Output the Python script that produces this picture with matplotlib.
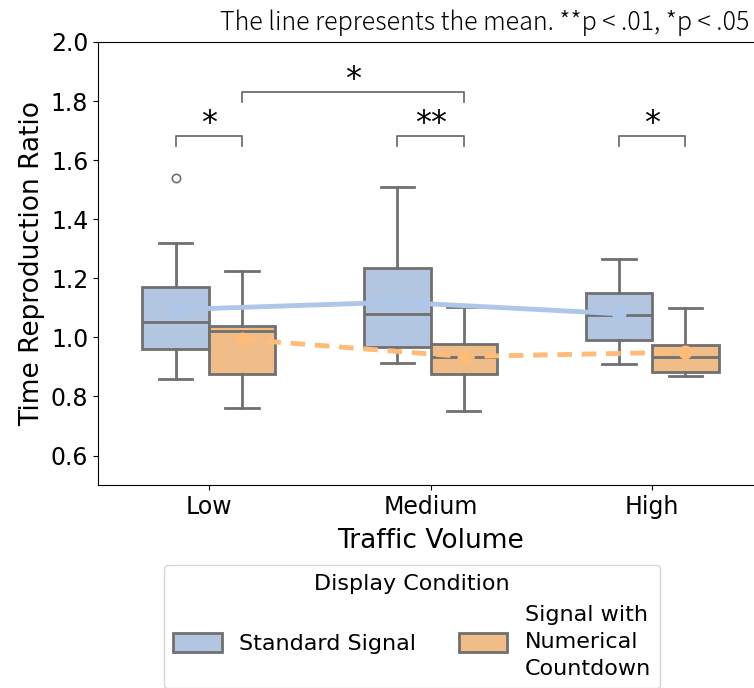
import matplotlib.pyplot as plt
from matplotlib.patches import Patch
import numpy as np

plt.rcParams['font.family'] = ['DejaVu Sans']

# categories / groups
volumes = ['Low', 'Medium', 'High']
conditions = ['Standard Signal', 'Signal with\nNumerical\nCountdown']

# box stats (per volume)
std_whislo = [0.859, 0.914, 0.910]
std_q1 = [0.962, 0.967, 0.992]
std_med = [1.051, 1.078, 1.075]
std_q3 = [1.170, 1.236, 1.151]
std_whishi = [1.319, 1.508, 1.264]
std_fliers = [[1.54], [], []]
std_mean = [1.094, 1.119, 1.080]

cd_whislo = [0.762, 0.751, 0.870]
cd_q1 = [0.875, 0.875, 0.882]
cd_med = [1.020, 0.933, 0.933]
cd_q3 = [1.038, 0.976, 0.975]
cd_whishi = [1.226, 1.102, 1.098]
cd_fliers = [[], [], []]
cd_mean = [0.993, 0.935, 0.950]

# significance brackets: (volume index a, hue a, volume index b, hue b, label)
sig_pairs = [(0, 0, 0, 1, '*'), (1, 0, 1, 1, '**'), (2, 0, 2, 1, '*'), (0, 1, 1, 1, '*')]
sig_levels = [1.683, 1.683, 1.683, 1.832]

blue_box, orange_box = '#b2c6e2', '#f0bc88'
blue_line, orange_line = '#aec7e8', '#ffbb78'
edge = '#707070'

fig = plt.figure(figsize=(7.54, 6.88), dpi=100)
ax = fig.add_axes([0.130, 0.295, 0.882, 0.644])

x = np.arange(len(volumes))
off = 0.15
bw = 0.3


def make_stats(lo, q1, med, q3, hi, fl):
    return [dict(whislo=a, q1=b, med=c, q3=d, whishi=e, fliers=f)
            for a, b, c, d, e, f in zip(lo, q1, med, q3, hi, fl)]


props = dict(patch_artist=True, widths=bw, showfliers=True,
             boxprops=dict(edgecolor=edge, linewidth=2),
             medianprops=dict(color=edge, linewidth=2),
             whiskerprops=dict(color=edge, linewidth=2),
             capprops=dict(color=edge, linewidth=2),
             flierprops=dict(marker='o', markerfacecolor='none', markeredgecolor=edge,
                             markersize=6, markeredgewidth=1.2))

b1 = ax.bxp(make_stats(std_whislo, std_q1, std_med, std_q3, std_whishi, std_fliers),
            positions=x - off, **props)
b2 = ax.bxp(make_stats(cd_whislo, cd_q1, cd_med, cd_q3, cd_whishi, cd_fliers),
            positions=x + off, **props)
for p in b1['boxes']:
    p.set_facecolor(blue_box)
for p in b2['boxes']:
    p.set_facecolor(orange_box)

# mean lines
ax.plot(x - off, std_mean, '-o', color=blue_line, lw=3.5, ms=9, zorder=5)
ax.plot(x + off, cd_mean, '--o', color=orange_line, lw=3.5, ms=9, zorder=5,
        dashes=(3, 2))

# significance brackets
for (ia, ha, ib, hb, lab), lev in zip(sig_pairs, sig_levels):
    xa = x[ia] + (off if ha else -off)
    xb = x[ib] + (off if hb else -off)
    ax.plot([xa, xa, xb, xb], [lev - 0.034, lev, lev, lev - 0.034], color=edge, lw=1.3)
    ax.text((xa + xb) / 2, lev - 0.012, lab, ha='center', va='bottom', fontsize=23)

ax.set_xlim(-0.5, 2.5)
ax.set_ylim(0.5, 2.0)
ax.set_yticks([0.6, 0.8, 1.0, 1.2, 1.4, 1.6, 1.8, 2.0])
ax.set_xticks(x)
ax.set_xticklabels(volumes)
ax.tick_params(labelsize=17)
ax.set_xlabel('Traffic Volume', fontsize=19, labelpad=7)
ax.set_ylabel('Time Reproduction Ratio', fontsize=19)

handles = [Patch(facecolor=blue_box, edgecolor=edge, linewidth=2),
           Patch(facecolor=orange_box, edgecolor=edge, linewidth=2)]
leg = fig.legend(handles, conditions, title='Display Condition', ncol=2, fontsize=16,
                 title_fontsize=16, loc='upper center', bbox_to_anchor=(0.5465, 0.195),
                 handlelength=2.2, handleheight=0.9, handletextpad=0.8, columnspacing=1.9)
for t in leg.get_texts():
    t.set_linespacing(1.45)

fig.text(0.994, 0.967, 'The line represents the mean. **p < .01, *p < .05',
         ha='right', va='center', fontsize=18, fontweight='light',
         family=['Noto Sans CJK JP', 'DejaVu Sans'])

plt.savefig('out.png', dpi=100)
